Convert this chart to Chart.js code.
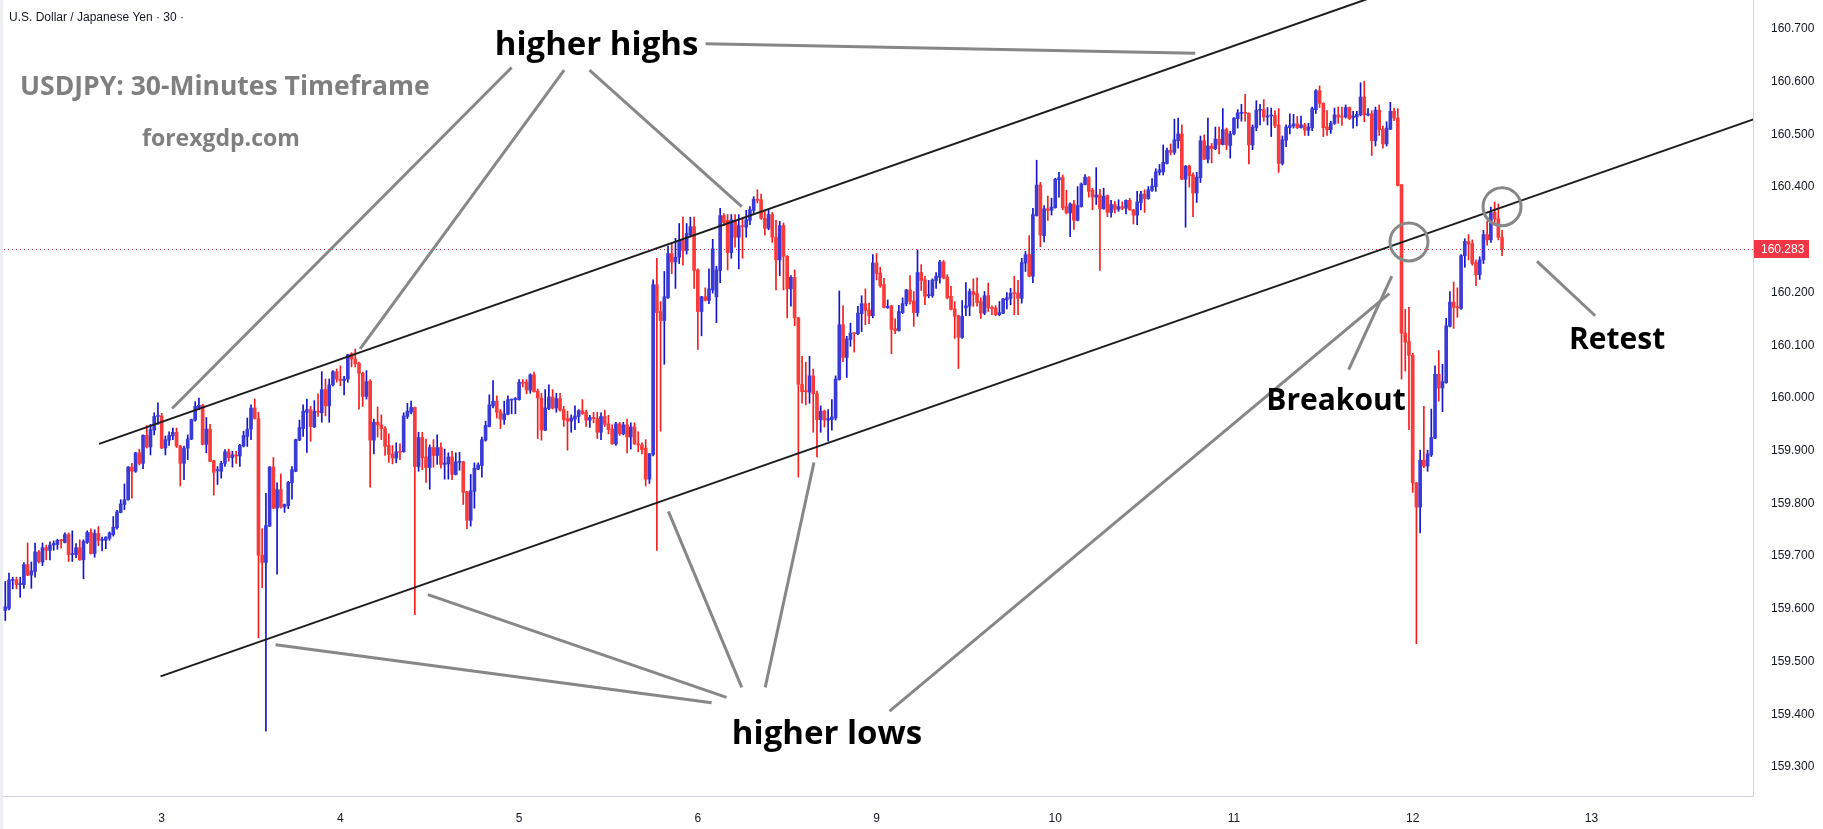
<!DOCTYPE html>
<html>
<head>
<meta charset="utf-8">
<script src="https://cdn.jsdelivr.net/npm/chart.js@4.4.1/dist/chart.umd.min.js"></script>
<style>
    html, body { margin: 0; padding: 0; background: #ffffff; }
    #wrap { width: 1823px; height: 829px; position: relative; }
</style>
</head>
<body>
<div id="wrap"><canvas id="usdjpy" width="1823" height="829"></canvas></div>
<script>
// USDJPY 30 min candles
const openP = [
159.597,159.601,159.654,159.655,159.646,159.646,159.684,159.664,159.671,159.708,159.689,159.716,159.711,159.721,159.722,159.730,159.726,159.741,159.703,159.703,159.716,159.693,159.726,159.745,159.705,159.743,159.730,159.730,159.734,159.741,159.754,159.783,
159.798,159.807,159.869,159.861,159.896,159.876,159.929,159.907,159.939,159.965,159.966,159.905,159.920,159.928,159.935,159.909,159.876,159.905,159.922,159.958,159.981,159.986,159.912,159.941,159.881,159.862,159.861,159.876,159.898,159.887,159.892,159.890,159.909,
159.927,159.941,159.981,159.961,159.702,159.688,159.757,159.869,159.791,159.826,159.793,159.796,159.839,159.861,159.920,159.942,159.973,159.978,159.945,159.975,159.972,160.016,159.985,160.025,160.050,160.036,160.033,160.036,160.084,160.074,160.066,160.047,160.003,
160.032,159.920,159.954,159.949,159.942,159.910,159.894,159.886,159.898,159.898,159.965,159.973,159.982,159.870,159.925,159.888,159.868,159.906,159.891,159.906,159.874,159.875,159.888,159.855,159.878,159.879,159.822,159.768,159.823,159.865,159.872,159.920,159.946,
159.985,159.994,159.974,159.959,159.969,159.996,159.997,159.997,160.030,160.030,160.015,160.044,160.013,160.000,159.939,159.980,160.002,159.981,159.999,159.978,159.961,159.956,159.960,159.965,159.976,159.973,159.958,159.963,159.961,159.935,159.965,159.951,159.941,
159.913,159.951,159.932,159.949,159.926,159.945,159.913,159.911,159.905,159.846,159.893,160.215,160.164,160.147,160.190,160.274,160.258,160.267,160.299,160.280,160.310,160.325,160.243,160.164,160.192,160.185,160.205,160.192,160.242,160.346,160.337,160.276,160.337,
160.305,160.327,160.324,160.337,160.356,160.377,160.376,160.341,160.322,160.348,160.305,160.262,160.327,160.269,160.207,160.229,160.152,160.026,160.014,160.011,160.042,160.008,159.959,159.975,159.958,159.959,159.962,160.035,160.139,160.077,160.111,160.123,160.122,
160.160,160.179,160.167,160.156,160.256,160.237,160.215,160.171,160.175,160.131,160.128,160.162,160.179,160.205,160.184,160.162,160.238,160.224,160.194,160.194,160.223,160.229,160.258,160.229,160.193,160.169,160.156,160.115,160.171,160.174,160.202,160.198,160.183,
160.161,160.194,160.172,160.171,160.158,160.161,160.186,160.189,160.199,160.199,160.189,160.256,160.272,160.231,160.346,160.404,160.308,160.359,160.356,160.361,160.414,160.418,160.363,160.351,160.368,160.337,160.363,160.405,160.418,160.394,160.381,160.385,160.359,
160.384,160.352,160.367,160.358,160.363,160.360,160.375,160.357,160.347,160.371,160.387,160.378,160.394,160.401,160.428,160.429,160.445,160.470,160.466,160.488,160.501,160.415,160.440,160.423,160.389,160.418,160.488,160.453,160.478,160.473,160.491,160.481,160.509,
160.479,160.501,160.530,160.540,160.541,160.540,160.480,160.513,160.546,160.547,160.533,160.535,160.536,160.518,160.445,160.489,160.513,160.516,160.520,160.513,160.518,160.508,160.513,160.547,160.583,160.559,160.514,160.509,160.521,160.537,160.535,160.533,160.551,
160.532,160.533,160.537,160.571,160.537,160.539,160.488,160.546,160.510,160.482,160.510,160.544,160.531,160.405,160.123,160.107,160.081,159.839,159.793,159.882,159.871,159.892,159.924,160.045,160.019,160.029,160.136,160.182,160.173,160.170,160.270,160.297,160.293,160.257,
160.234,160.262,160.310,160.300,160.352,160.340,160.305
];
const highP = [
159.652,159.668,159.660,159.660,159.660,159.688,159.725,159.689,159.725,159.711,159.725,159.721,159.727,159.729,159.732,159.732,159.744,159.744,159.748,159.724,159.731,159.731,159.748,159.752,159.750,159.756,159.736,159.737,159.746,159.775,159.787,159.807,
159.837,159.870,159.876,159.897,159.903,159.930,159.948,159.950,159.972,159.991,159.971,159.928,159.936,159.943,159.943,159.910,159.909,159.930,159.960,159.993,160.000,159.988,159.963,159.950,159.882,159.870,159.880,159.902,159.903,159.899,159.899,159.912,159.937,
159.962,159.987,159.998,159.973,159.752,159.819,159.870,159.887,159.839,159.856,159.799,159.842,159.870,159.922,159.958,159.987,159.998,159.984,159.995,160.008,160.050,160.036,160.036,160.052,160.055,160.061,160.041,160.083,160.086,160.093,160.068,160.049,160.052,
160.035,159.960,159.983,159.968,159.946,159.932,159.910,159.915,159.913,159.972,159.990,159.994,159.983,159.935,159.935,159.922,159.911,159.921,159.930,159.915,159.903,159.896,159.899,159.896,159.897,159.880,159.823,159.855,159.877,159.877,159.926,159.956,160.006,
160.033,160.004,159.978,159.994,160.004,159.998,160.001,160.035,160.035,160.035,160.046,160.049,160.017,160.009,160.016,160.025,160.016,160.009,160.009,159.984,159.975,159.968,159.985,159.978,159.997,159.977,159.967,159.973,159.973,159.972,159.977,159.967,159.949,
159.954,159.954,159.954,159.960,159.953,159.953,159.936,159.915,159.921,159.895,160.224,160.265,160.183,160.240,160.288,160.294,160.303,160.331,160.343,160.331,160.343,160.343,160.245,160.193,160.209,160.245,160.301,160.250,160.360,160.350,160.348,160.348,160.348,
160.348,160.341,160.356,160.363,160.382,160.395,160.387,160.356,160.358,160.352,160.337,160.335,160.332,160.270,160.232,160.243,160.153,160.079,160.068,160.079,160.055,160.013,159.985,159.977,159.978,159.997,160.042,160.203,160.175,160.117,160.142,160.124,160.174,
160.194,160.207,160.180,160.272,160.274,160.248,160.227,160.186,160.176,160.150,160.176,160.190,160.206,160.232,160.202,160.281,160.253,160.231,160.223,160.226,160.238,160.261,160.261,160.234,160.212,160.183,160.157,160.185,160.219,160.207,160.226,160.228,160.190,
160.202,160.218,160.175,160.175,160.183,160.189,160.200,160.208,160.231,160.223,160.265,160.278,160.308,160.360,160.451,160.409,160.365,160.383,160.379,160.417,160.428,160.423,160.394,160.370,160.375,160.401,160.408,160.424,160.420,160.398,160.437,160.396,160.398,
160.385,160.375,160.373,160.376,160.372,160.376,160.379,160.358,160.392,160.392,160.395,160.401,160.416,160.435,160.443,160.480,160.474,160.482,160.529,160.531,160.518,160.441,160.442,160.427,160.428,160.497,160.499,160.531,160.483,160.514,160.514,160.549,160.512,
160.506,160.532,160.547,160.557,160.576,160.541,160.518,160.564,160.557,160.566,160.551,160.550,160.545,160.549,160.497,160.518,160.539,160.538,160.534,160.535,160.521,160.521,160.552,160.585,160.592,160.560,160.545,160.525,160.550,160.552,160.552,160.556,160.552,
160.544,160.544,160.598,160.601,160.549,160.545,160.552,160.556,160.516,160.524,160.561,160.550,160.549,160.405,160.168,160.172,160.085,159.840,159.901,159.984,159.901,159.979,160.061,160.090,160.064,160.151,160.202,160.220,160.209,160.272,160.302,160.310,160.300,160.262,
160.268,160.318,160.335,160.362,160.372,160.368,160.318
];
const lowP = [
159.578,159.598,159.638,159.638,159.622,159.639,159.663,159.639,159.660,159.687,159.682,159.693,159.693,159.711,159.713,159.715,159.725,159.690,159.690,159.697,159.692,159.657,159.724,159.704,159.698,159.720,159.710,159.714,159.730,159.738,159.751,159.782,
159.788,159.806,159.810,159.859,159.873,159.866,159.905,159.892,159.930,159.950,159.904,159.892,159.910,159.921,159.906,159.833,159.845,159.883,159.921,159.956,159.978,159.911,159.896,159.879,159.816,159.836,159.848,159.870,159.880,159.869,159.876,159.870,159.907,
159.908,159.921,159.960,159.545,159.640,159.368,159.756,159.790,159.666,159.791,159.783,159.790,159.808,159.860,159.919,159.927,159.897,159.918,159.944,159.965,159.954,159.966,159.954,160.023,160.030,160.023,160.006,160.030,160.059,160.059,159.979,159.984,159.998,
159.831,159.894,159.926,159.921,159.891,159.878,159.875,159.877,159.883,159.897,159.961,159.970,159.589,159.861,159.864,159.840,159.827,159.869,159.874,159.867,159.846,159.846,159.845,159.854,159.863,159.798,159.752,159.757,159.791,159.864,159.850,159.918,159.945,
159.981,159.962,159.942,159.950,159.968,159.970,159.970,159.996,160.021,160.008,160.009,160.011,159.923,159.920,159.938,159.978,159.979,159.973,159.975,159.946,159.901,159.935,159.940,159.953,159.969,159.946,159.944,159.953,159.923,159.921,159.946,159.932,159.912,
159.910,159.929,159.930,159.896,159.903,159.912,159.898,159.894,159.833,159.838,159.890,159.711,159.937,160.064,160.189,160.236,160.208,160.255,160.252,160.273,160.308,160.208,160.092,160.118,160.184,160.179,160.199,160.143,160.219,160.327,160.243,160.265,160.286,
160.245,160.265,160.305,160.329,160.349,160.370,160.339,160.309,160.319,160.295,160.205,160.232,160.205,160.152,160.174,160.137,159.850,159.990,159.987,159.990,159.935,159.888,159.935,159.945,159.918,159.939,159.958,160.034,160.069,160.039,160.098,160.087,160.120,
160.126,160.139,160.141,160.152,160.224,160.210,160.171,160.170,160.084,160.122,160.127,160.160,160.175,160.178,160.136,160.155,160.204,160.177,160.190,160.191,160.208,160.218,160.226,160.188,160.167,160.113,160.056,160.113,160.156,160.156,160.174,160.174,160.151,
160.158,160.164,160.158,160.156,160.156,160.160,160.169,160.177,160.158,160.158,160.180,160.240,160.230,160.219,160.345,160.287,160.296,160.337,160.347,160.360,160.381,160.357,160.349,160.306,160.320,160.336,160.362,160.404,160.381,160.357,160.367,160.242,160.358,
160.344,160.343,160.351,160.354,160.357,160.349,160.356,160.330,160.329,160.357,160.352,160.377,160.392,160.392,160.423,160.423,160.444,160.461,160.462,160.474,160.414,160.324,160.400,160.344,160.371,160.409,160.452,160.446,160.446,160.471,160.463,160.480,160.471,
160.455,160.499,160.512,160.525,160.525,160.444,160.471,160.507,160.518,160.525,160.518,160.496,160.513,160.428,160.442,160.477,160.501,160.512,160.511,160.512,160.498,160.498,160.507,160.540,160.551,160.496,160.498,160.502,160.519,160.521,160.517,160.531,160.528,
160.512,160.516,160.535,160.524,160.535,160.460,160.478,160.498,160.474,160.478,160.509,160.526,160.402,160.036,160.051,159.940,159.821,159.534,159.744,159.868,159.861,159.889,159.923,159.994,159.974,160.028,160.135,160.132,160.153,160.168,160.248,160.262,160.252,160.213,
160.225,160.255,160.290,160.295,160.330,160.300,160.270
];
const closeP = [
159.604,159.655,159.655,159.646,159.648,159.684,159.664,159.672,159.708,159.689,159.716,159.711,159.721,159.724,159.730,159.729,159.741,159.703,159.705,159.716,159.693,159.728,159.745,159.705,159.743,159.730,159.732,159.736,159.744,159.755,159.784,159.799,
159.807,159.869,159.861,159.896,159.876,159.929,159.907,159.940,159.965,159.966,159.905,159.921,159.929,159.935,159.909,159.876,159.905,159.922,159.959,159.984,159.986,159.912,159.941,159.880,159.859,159.864,159.876,159.898,159.887,159.892,159.890,159.910,159.929,
159.941,159.981,159.961,159.702,159.688,159.758,159.869,159.791,159.826,159.793,159.798,159.840,159.864,159.921,159.944,159.975,159.978,159.946,159.975,159.973,160.016,159.985,160.025,160.050,160.036,160.033,160.036,160.082,160.074,160.065,160.047,160.003,160.031,
159.920,159.954,159.949,159.942,159.908,159.893,159.886,159.898,159.897,159.966,159.975,159.982,159.870,159.925,159.887,159.868,159.906,159.891,159.906,159.874,159.877,159.888,159.855,159.879,159.879,159.821,159.768,159.824,159.867,159.873,159.921,159.948,159.987,
159.994,159.973,159.960,159.970,159.997,159.997,159.999,160.030,160.028,160.015,160.044,160.012,160.000,159.939,159.981,160.002,159.981,159.999,159.977,159.959,159.956,159.962,159.966,159.976,159.970,159.958,159.963,159.961,159.935,159.965,159.950,159.940,159.913,
159.951,159.932,159.949,159.926,159.945,159.913,159.911,159.902,159.846,159.894,160.215,160.162,160.147,160.192,160.274,160.258,160.267,160.299,160.280,160.312,160.325,160.242,160.164,160.192,160.185,160.207,160.283,160.243,160.346,160.333,160.276,160.338,160.305,
160.327,160.325,160.338,160.357,160.377,160.375,160.341,160.322,160.348,160.305,160.262,160.327,160.269,160.207,160.229,160.152,160.026,160.012,160.012,160.042,160.008,159.959,159.975,159.958,159.961,159.964,160.036,160.139,160.077,160.112,160.123,160.122,160.161,
160.179,160.166,160.156,160.256,160.236,160.213,160.172,160.174,160.130,160.128,160.164,160.179,160.205,160.183,160.162,160.238,160.223,160.193,160.196,160.224,160.231,160.258,160.227,160.190,160.168,160.155,160.115,160.155,160.175,160.202,160.196,160.181,160.161,
160.194,160.171,160.170,160.158,160.162,160.188,160.190,160.199,160.198,160.189,160.257,160.272,160.231,160.348,160.404,160.309,160.359,160.356,160.362,160.415,160.418,160.361,160.351,160.368,160.337,160.365,160.406,160.419,160.392,160.381,160.385,160.359,160.383,
160.352,160.367,160.358,160.363,160.360,160.375,160.357,160.347,160.372,160.387,160.378,160.395,160.402,160.429,160.433,160.447,160.470,160.466,160.490,160.501,160.415,160.440,160.422,160.389,160.419,160.488,160.453,160.478,160.473,160.491,160.481,160.509,160.480,
160.501,160.531,160.541,160.541,160.540,160.480,160.514,160.546,160.547,160.533,160.535,160.536,160.517,160.445,160.490,160.514,160.517,160.520,160.513,160.518,160.508,160.514,160.549,160.583,160.559,160.513,160.509,160.521,160.537,160.533,160.533,160.551,160.530,
160.535,160.538,160.571,160.537,160.539,160.488,160.546,160.509,160.482,160.512,160.544,160.531,160.403,160.123,160.106,160.081,159.839,159.793,159.882,159.871,159.894,159.925,160.045,160.019,160.031,160.137,160.182,160.172,160.171,160.270,160.297,160.292,160.255,160.234,
160.262,160.310,160.300,160.352,160.340,160.305,160.283
];

// bar index where each day starts, and its label
const dayTicks = [42, 90, 138, 186, 234, 282, 330, 378, 426];
const dayLabels = ['3', '4', '5', '6', '9', '10', '11', '12', '13'];
const priceTicks = [159.3, 159.4, 159.5, 159.6, 159.7, 159.8, 159.9, 160.0, 160.1, 160.2, 160.4, 160.5, 160.6, 160.7];
const lastPrice = 160.283;

// Drawings on the chart, in (bar index, price)
const channelLines = [
    [25.2, 159.913, 380, 160.792],
    [41.7, 159.472, 470.1, 160.530]
];
const pointerLines = [
    [136.0, 160.627, 44.8, 159.980],
    [150.1, 160.622, 95.3, 160.093],
    [156.9, 160.622, 197.8, 160.363],
    [188.1, 160.672, 319.6, 160.654],
    [189.7, 159.422, 72.6, 159.532],
    [193.7, 159.432, 113.5, 159.627],
    [197.8, 159.451, 178.1, 159.785],
    [204.1, 159.451, 217.2, 159.878],
    [237.5, 159.406, 371.7, 160.198],
    [360.8, 160.054, 372.4, 160.231],
    [427.0, 160.156, 411.4, 160.259]
];
const rings = [
    [377.0, 160.296],
    [402.0, 160.363]
];
const notes = [
    ['higher highs', 158.8, 160.669],
    ['higher lows', 220.7, 159.362],
    ['Breakout', 357.4, 159.993],
    ['Retest', 432.9, 160.110]
];

const UP_BODY = '#3a3ad8', UP_WICK = '#1414cc';
const DN_BODY = '#fb3a3a', DN_WICK = '#f51e1e';

var n = Math.min(openP.length, highP.length, lowP.length, closeP.length);
var bodies = [], wicks = [];
for (var i = 0; i < n; i++) {
    bodies.push({x: i, y: [openP[i], closeP[i]]});
    wicks.push({x: i, y: [lowP[i], highP[i]]});
}
var isUp = function (ctx) { return closeP[ctx.dataIndex] >= openP[ctx.dataIndex]; };

var axisFont = {family: '"Liberation Sans", Arial, sans-serif', size: 12};

// no extra room for edge labels, the plot runs to the canvas edge
var noPad = function (s) {
    s.paddingTop = 0;
    s.paddingBottom = 0;
    s.paddingLeft = 0;
    s.paddingRight = 0;
};

// Trend lines, labels, price line
var overlay = {
    id: 'overlay',
    beforeDatasetsDraw: function (chart) {
        var c = chart.ctx, a = chart.chartArea, y = chart.scales.y;
        var yy = Math.round(y.getPixelForValue(lastPrice)) + 0.5;
        c.save();
        c.strokeStyle = '#f23645';
        c.lineWidth = 1;
        c.setLineDash([1, 3]);
        c.beginPath();
        c.moveTo(a.left, yy);
        c.lineTo(a.right, yy);
        c.stroke();
        c.restore();
    },
    afterDatasetsDraw: function (chart) {
        var c = chart.ctx, a = chart.chartArea, x = chart.scales.x, y = chart.scales.y;
        c.save();
        c.beginPath();
        c.rect(a.left, a.top, a.right - a.left, a.bottom - a.top);
        c.clip();
        c.lineCap = 'butt';

        c.strokeStyle = '#1c1c1c';
        c.lineWidth = 2;
        channelLines.forEach(function (l) {
            c.beginPath();
            c.moveTo(x.getPixelForValue(l[0]), y.getPixelForValue(l[1]));
            c.lineTo(x.getPixelForValue(l[2]), y.getPixelForValue(l[3]));
            c.stroke();
        });

        c.strokeStyle = '#878787';
        c.lineWidth = 3;
        pointerLines.forEach(function (l) {
            c.beginPath();
            c.moveTo(x.getPixelForValue(l[0]), y.getPixelForValue(l[1]));
            c.lineTo(x.getPixelForValue(l[2]), y.getPixelForValue(l[3]));
            c.stroke();
        });
        rings.forEach(function (r) {
            c.beginPath();
            c.arc(x.getPixelForValue(r[0]), y.getPixelForValue(r[1]), 19, 0, Math.PI * 2);
            c.stroke();
        });

        c.fillStyle = '#000000';
        c.textAlign = 'center';
        c.textBaseline = 'middle';
        notes.forEach(function (t) {
            c.font = 'bold ' + (t[0] === 'higher highs' || t[0] === 'higher lows' ? 33 : 30) + 'px "Open Sans", sans-serif';
            c.fillText(t[0], x.getPixelForValue(t[1]), y.getPixelForValue(t[2]));
        });
        c.restore();
    },
    afterDraw: function (chart) {
        var c = chart.ctx, a = chart.chartArea, y = chart.scales.y;
        c.save();
        // left frame edge
        c.fillStyle = '#eceef2';
        c.fillRect(0, 0, 3, chart.height);

        // last price tag
        var yy = y.getPixelForValue(lastPrice);
        c.fillStyle = '#f23645';
        c.fillRect(a.right + 1, Math.round(yy) - 9, 55, 18);
        c.fillStyle = '#ffffff';
        c.font = axisFont.size + 'px ' + axisFont.family;
        c.textAlign = 'left';
        c.textBaseline = 'middle';
        c.fillText(lastPrice.toFixed(3), a.right + 8, yy + 0.5);

        // header texts
        c.fillStyle = '#131722';
        c.font = '12px "Liberation Sans", Arial, sans-serif';
        c.fillText('U.S. Dollar / Japanese Yen \u00b7 30 \u00b7', 9, 18);
        c.fillStyle = '#7f7f7f';
        c.font = 'bold 26.5px "Open Sans", sans-serif';
        c.fillText('USDJPY: 30-Minutes Timeframe', 20, 87);
        c.font = 'bold 23px "Open Sans", sans-serif';
        c.fillText('forexgdp.com', 142, 139);
        c.restore();
    }
};

new Chart(document.getElementById('usdjpy').getContext('2d'), {
    type: 'bar',
    data: {
        datasets: [{
            label: 'body',
            data: bodies,
            grouped: false,
            barThickness: 3,
            minBarLength: 1,
            borderWidth: 0,
            backgroundColor: function (ctx) { return isUp(ctx) ? UP_BODY : DN_BODY; }
        }, {
            label: 'wick',
            data: wicks,
            grouped: false,
            barThickness: 1,
            borderWidth: 0,
            backgroundColor: function (ctx) { return isUp(ctx) ? UP_WICK : DN_WICK; }
        }]
    },
    options: {
        responsive: false,
        animation: false,
        layout: {padding: 0},
        plugins: {legend: {display: false}, tooltip: {enabled: false}},
        scales: {
            x: {
                type: 'linear',
                min: -1.42,
                max: 469.4,
                offset: false,
                grid: {display: false},
                border: {display: true, color: '#d1d4dc'},
                afterBuildTicks: function (s) { s.ticks = dayTicks.map(function (v) { return {value: v}; }); },
                afterFit: function (s) { s.height = 33; noPad(s); },
                ticks: {
                    autoSkip: false,
                    maxRotation: 0,
                    padding: 7,
                    color: '#131722',
                    font: axisFont,
                    callback: function (v, idx) { return dayLabels[idx]; }
                }
            },
            y: {
                position: 'right',
                min: 159.245,
                max: 160.755,
                grid: {display: false},
                border: {display: true, color: '#d1d4dc'},
                afterBuildTicks: function (s) { s.ticks = priceTicks.map(function (v) { return {value: v}; }); },
                afterFit: function (s) { s.width = 70; noPad(s); },
                ticks: {
                    padding: 10,
                    color: '#131722',
                    font: axisFont,
                    callback: function (v) { return Number(v).toFixed(3); }
                }
            }
        }
    },
    plugins: [overlay]
});
</script>
</body>
</html>
